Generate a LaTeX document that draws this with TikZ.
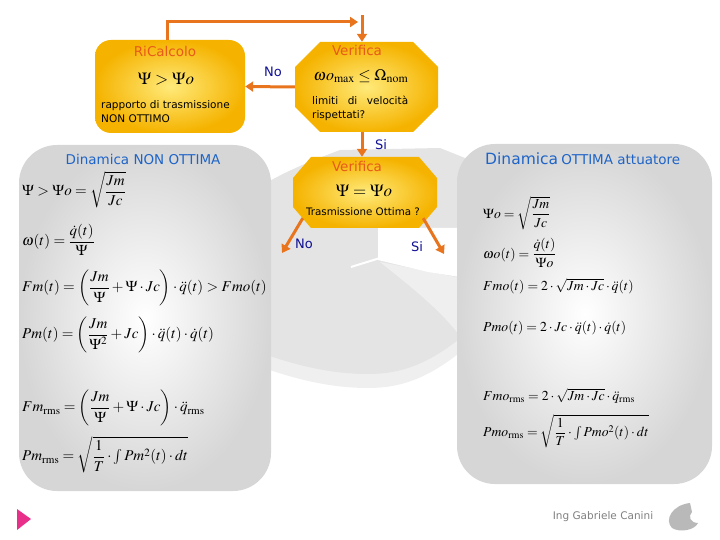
\documentclass[tikz,border=0pt]{standalone}
\usepackage{amsmath}
\usepackage{mathptmx}
\usepackage[no-math]{fontspec}
\setmainfont{DejaVu Sans}
\usetikzlibrary{arrows.meta}
\definecolor{ylight}{HTML}{FFEA7A}
\definecolor{ydark}{HTML}{F5B300}
\definecolor{arrc}{HTML}{E8741E}
\definecolor{ttlor}{HTML}{E8591A}
\definecolor{lblue}{HTML}{0F0F96}
\definecolor{tblue}{HTML}{1E64C8}
\definecolor{pgray}{HTML}{D6D6D6}
\definecolor{bggray}{HTML}{E4E4E4}
\definecolor{bglight}{HTML}{EFEFEF}
\definecolor{pinkc}{HTML}{E8308A}
\tikzset{
  arr/.style={draw=arrc, line width=3pt, -{Triangle[width=10pt,length=8pt]}},
  lbl/.style={text=lblue, font=\fontsize{13}{15}\selectfont},
  ttl/.style={text=ttlor, font=\fontsize{13.5}{16}\selectfont},
  small/.style={font=\fontsize{10.5}{14}\selectfont},
  eql/.style={anchor=west, inner sep=0pt, font=\fontsize{15}{17}\selectfont},
  eqr/.style={anchor=west, inner sep=0pt, font=\fontsize{13.7}{16}\selectfont},
  bigeq/.style={inner sep=0pt, font=\fontsize{17}{20}\selectfont},
  panel/.style={rounded corners=38pt, inner color=white, outer color=pgray, shade},
  holder/.style={inner sep=0pt, minimum width=#1}
}
\begin{document}
\begin{tikzpicture}[x=1pt,y=-1pt]
\useasboundingbox (0,0) rectangle (720,540);
% background swirl
\fill[bglight] (240,214) .. controls (270,192) and (300,179) .. (340,164) -- (440,160) -- (470,172)
  -- (470,344) .. controls (430,379) and (400,388) .. (368,388)
  .. controls (330,388) and (290,379) .. (240,359) -- cycle;
\fill[bggray] (240,200) .. controls (270,178) and (300,165) .. (340,150) -- (440,148) -- (470,160)
  -- (470,330) .. controls (430,365) and (400,374) .. (368,374)
  .. controls (330,374) and (290,365) .. (240,345) -- cycle;
\fill[bglight] (380,262) -- (460,278) -- (460,336) .. controls (440,310) and (415,290) .. (380,262) -- cycle;
\fill[white] (378,228) -- (460,228) -- (460,277) -- (428,272) -- (378,260) -- cycle;
\draw[white, line width=2pt] (351,267) -- (380,258);
% panels
\node[panel, minimum width=252pt, minimum height=346pt] (lp) at (145,318) {};
\node[panel, minimum width=255pt, minimum height=340pt] (rp) at (584.5,314) {};
% RiCalcolo box
\node[rounded corners=16pt, shade, inner color=ylight, outer color=ydark,
  minimum width=150pt, minimum height=93pt] (rc) at (170,86.5) {};
% octagon 1
\shade[inner color=ylight, outer color=ydark]
  (320,42) -- (413,42) -- (438,67) -- (438,107) -- (413,132) -- (320,132) -- (295,107) -- (295,67) -- cycle;
\node[holder=143pt, minimum height=90pt] (v1) at (366.5,87) {};
% octagon 2
\shade[inner color=ylight, outer color=ydark]
  (311,157) -- (419,157) -- (437,178) -- (437,207) -- (419,228) -- (311,228) -- (293,207) -- (293,178) -- cycle;
\node[holder=144pt, minimum height=71pt] (v2) at (365,192.5) {};
% texts in boxes
\node[ttl] (t1) at (165,51) {RiCalcolo};
\node[bigeq] (m1) at (166,79) {$\Psi>\Psi\mathit{o}$};
\node[small, anchor=north west, inner sep=0pt, align=left] (rt) at (101,100) {rapporto di trasmissione\\NON OTTIMO};
\node[ttl] (t2) at (357,50) {Verifica};
\node[bigeq, font=\fontsize{16}{19}\selectfont] (m2) at (361,76) {$\omega\mathit{o}_{\max}\le\Omega_{\mathrm{nom}}$};
\node[small, anchor=north west, inner sep=0pt] (lt) at (312,96) {\parbox{96pt}{\lineskiplimit=0pt\baselineskip=14pt limiti\hfill di\hfill velocità\\rispettati?}};
\node[ttl] (t3) at (357,166) {Verifica};
\node[bigeq] (m3) at (364,191) {$\Psi=\Psi\mathit{o}$};
\node[font=\fontsize{10.3}{12}\selectfont, inner sep=0pt] (tt) at (363,212) {Trasmissione Ottima ?};
% connectors
\coordinate (tc) at (358,22);
\coordinate (vt) at (362,15);
\draw[arr] ([xshift=-3pt]rc.north) |- (tc);
\draw[arr] (vt) -- ([xshift=-4.5pt]v1.north);
\draw[arr] (v1.west) -- (rc.east);
\draw[arr] ([xshift=-4.5pt]v1.south) -- ([xshift=-3pt]v2.north);
\coordinate (noend) at (282,253);
\coordinate (siend) at (444,254);
\draw[arr] ([shift={(10,-10)}]v2.south west) -- (noend);
\draw[arr] ([shift={(-14,-10)}]v2.south east) -- (siend);
\node[lbl] (no1) at (273,72) {No};
\node[lbl] (si1) at (381,145) {Si};
\node[lbl] (no2) at (304,244) {No};
\node[lbl] (si2) at (417,247) {Si};
% panel titles
\node[text=tblue, font=\fontsize{13.5}{16}\selectfont] (lt1) at (143,159) {Dinamica NON OTTIMA};
\node[text=tblue, anchor=west, inner sep=0pt] (rt1) at (485,159) {{\fontsize{15.5}{18}\selectfont Dinamica} {\fontsize{13.5}{16}\selectfont OTTIMA attuatore}};
% left equations
\node[eql] (l1) at (22,190) {$\Psi>\Psi\mathit{o}=\sqrt{\dfrac{Jm}{Jc}}$};
\node[eql] (l2) at (22,240) {$\omega(t)=\dfrac{\dot q(t)}{\Psi}$};
\node[eql] (l3) at (22,288) {$Fm(t)=\left(\dfrac{Jm}{\Psi}+\Psi\cdot Jc\right)\cdot\ddot q(t)>Fmo(t)$};
\node[eql] (l4) at (22,335) {$Pm(t)=\left(\dfrac{Jm}{\Psi^2}+Jc\right)\cdot\ddot q(t)\cdot\dot q(t)$};
\node[eql] (l5) at (22,408) {$Fm_{\mathrm{rms}}=\left(\dfrac{Jm}{\Psi}+\Psi\cdot Jc\right)\cdot\ddot q_{\mathrm{rms}}$};
\node[eql] (l6) at (22,455) {$Pm_{\mathrm{rms}}=\sqrt{\dfrac{1}{T}\cdot\int Pm^2(t)\cdot dt}$};
% right equations
\node[eqr] (r1) at (483,213) {$\Psi\mathit{o}=\sqrt{\dfrac{Jm}{Jc}}$};
\node[eqr] (r2) at (483,253) {$\omega\mathit{o}(t)=\dfrac{\dot q(t)}{\Psi\mathit{o}}$};
\node[eqr] (r3) at (483,286) {$Fmo(t)=2\cdot\sqrt{Jm\cdot Jc}\cdot\ddot q(t)$};
\node[eqr] (r4) at (483,328) {$Pmo(t)=2\cdot Jc\cdot\ddot q(t)\cdot\dot q(t)$};
\node[eqr] (r5) at (483,396) {$Fmo_{\mathrm{rms}}=2\cdot\sqrt{Jm\cdot Jc}\cdot\ddot q_{\mathrm{rms}}$};
\node[eqr] (r6) at (483,431) {$Pmo_{\mathrm{rms}}=\sqrt{\dfrac{1}{T}\cdot\int Pmo^2(t)\cdot dt}$};
% footer
\fill[pinkc] (17,509) -- (31,519) -- (17,530) -- cycle;
\node[text=gray, font=\fontsize{10.5}{12}\selectfont] (auth) at (603,517) {Ing Gabriele Canini};
\fill[gray!55] (690,503) .. controls (672,505) and (664,520) .. (672,528) .. controls (680,533) and (695,530) .. (698,523) .. controls (690,523) and (688,516) .. (692,512) -- cycle;
\end{tikzpicture}
\end{document}
